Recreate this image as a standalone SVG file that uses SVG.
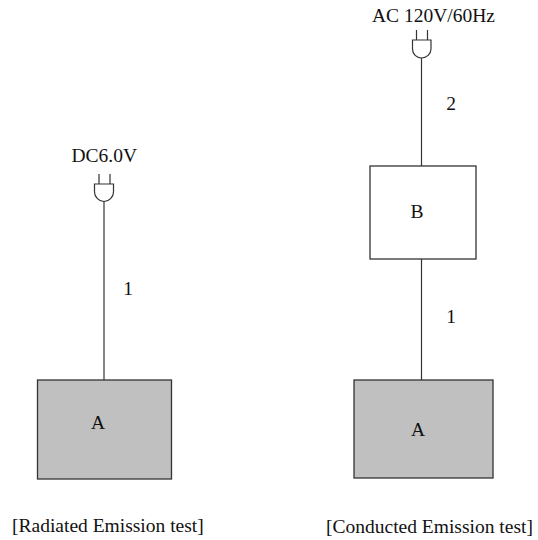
<svg xmlns="http://www.w3.org/2000/svg" width="538" height="540" viewBox="0 0 538 540">
<defs>
<style>
text{font-family:"Liberation Serif","Times New Roman",serif;font-size:19.500px;fill:#111}
.box{stroke:#333;stroke-width:1.3}
.a{fill:#c0c0c0}
.b{fill:#fff}
.line,.plug{fill:none;stroke:#333;stroke-width:1.2}
</style>
</defs>
<rect width="538" height="540" fill="#fff"/>
<g id="connectors">
<line class="line" x1="104" y1="201" x2="104" y2="380"/>
<line class="line" x1="421.500" y1="58" x2="421.500" y2="166"/>
<line class="line" x1="421.500" y1="259" x2="421.500" y2="380"/>
</g>
<g id="plug-left"><path class="plug" d="M99 174V184M110 174V184M94.500 184H113.500V192C113.500 197 109 201.500 104 201.500C99 201.500 94.500 197 94.500 192Z"/></g>
<g id="plug-right"><path class="plug" d="M416.500 30V40M427.500 30V40M412.500 40H431V49C431 54 426.500 58 421.500 58C416.500 58 412.500 54 412.500 49Z"/></g>
<g id="node-a-left"><rect class="box a" x="37.500" y="380" width="134" height="99"/><text x="98" y="429" text-anchor="middle">A</text></g>
<g id="node-a-right"><rect class="box a" x="354" y="380" width="139" height="98"/><text x="418" y="436" text-anchor="middle">A</text></g>
<g id="node-b"><rect class="box b" x="370" y="166" width="106" height="93"/><text x="417" y="218" text-anchor="middle">B</text></g>
<g id="labels">
<text x="71.500" y="162">DC6.0V</text>
<text x="128" y="295" text-anchor="middle">1</text>
<text x="372" y="22">AC 120V/60Hz</text>
<text x="451" y="110" text-anchor="middle">2</text>
<text x="451" y="322.500" text-anchor="middle">1</text>
<text x="12" y="532">[Radiated Emission test]</text>
<text x="326" y="533">[Conducted Emission test]</text>
</g>
</svg>
